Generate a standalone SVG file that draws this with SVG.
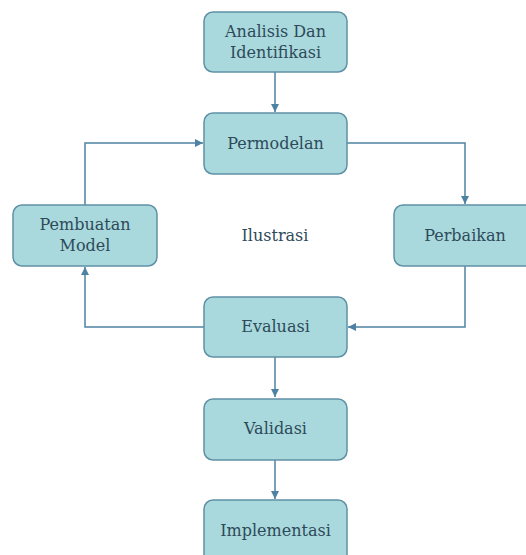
<svg xmlns="http://www.w3.org/2000/svg" width="526" height="555" viewBox="0 0 526 555">
<style>
.box{fill:#a9d9dc;stroke:#5f91a6;stroke-width:1.5}
.lbl{font-family:"DejaVu Serif","Liberation Serif",serif;font-size:16px;fill:#2e4a5a;text-anchor:middle}
.con{fill:none;stroke:#4e82a3;stroke-width:1.5}
</style>
<defs>
<marker id="ah" viewBox="0 0 10 10" refX="10" refY="5" markerWidth="8" markerHeight="8" orient="auto" markerUnits="userSpaceOnUse">
<path d="M0,0 L10,5 L0,10 z" fill="#4e82a3"/>
</marker>
</defs>
<rect width="526" height="555" fill="#ffffff"/>
<g id="connectors">
<path class="con" d="M275,72 V112" marker-end="url(#ah)"/>
<path class="con" d="M347,143 H465 V204" marker-end="url(#ah)"/>
<path class="con" d="M465,266 V327 H348" marker-end="url(#ah)"/>
<path class="con" d="M204,327 H85 V267" marker-end="url(#ah)"/>
<path class="con" d="M85,205 V143 H203" marker-end="url(#ah)"/>
<path class="con" d="M275,357 V397" marker-end="url(#ah)"/>
<path class="con" d="M275,460 V499" marker-end="url(#ah)"/>
</g>
<g id="analisis"><rect class="box" x="204" y="12" width="143" height="60" rx="9"/><text class="lbl" x="275.5" y="37">Analisis Dan</text><text class="lbl" x="275.5" y="58">Identifikasi</text></g>
<g id="permodelan"><rect class="box" x="204" y="113" width="143" height="61" rx="9"/><text class="lbl" x="275.5" y="149">Permodelan</text></g>
<g id="pembuatan"><rect class="box" x="13" y="205" width="144" height="61" rx="9"/><text class="lbl" x="85" y="230">Pembuatan</text><text class="lbl" x="85" y="251">Model</text></g>
<g id="perbaikan"><rect class="box" x="394" y="205" width="143" height="61" rx="9"/><text class="lbl" x="465" y="241">Perbaikan</text></g>
<g id="ilustrasi"><text class="lbl" x="275" y="241">Ilustrasi</text></g>
<g id="evaluasi"><rect class="box" x="204" y="297" width="143" height="60" rx="9"/><text class="lbl" x="275.5" y="332">Evaluasi</text></g>
<g id="validasi"><rect class="box" x="204" y="399" width="143" height="61" rx="9"/><text class="lbl" x="275.5" y="434">Validasi</text></g>
<g id="implementasi"><rect class="box" x="204" y="500" width="143" height="70" rx="9"/><text class="lbl" x="275.5" y="536">Implementasi</text></g>
</svg>
